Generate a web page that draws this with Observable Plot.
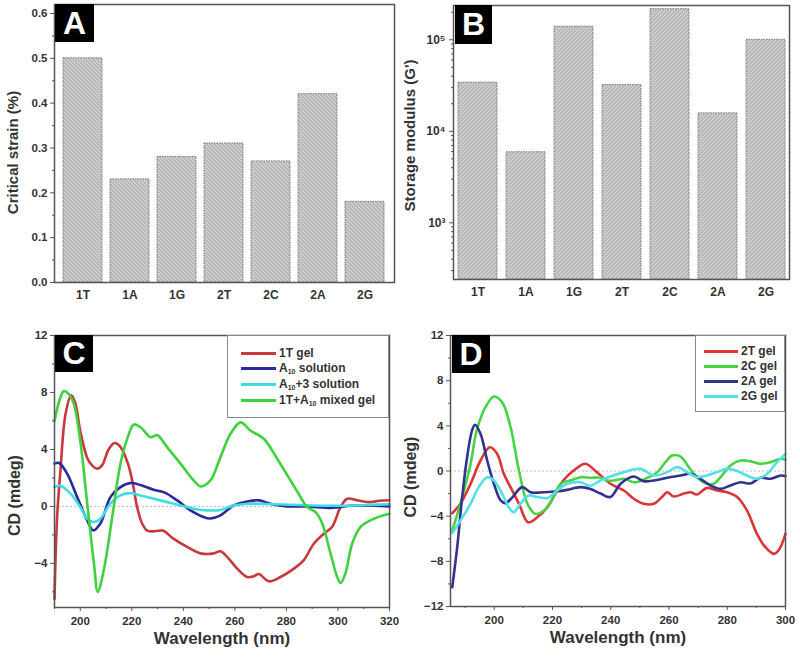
<!DOCTYPE html>
<html><head><meta charset="utf-8">
<script src="https://cdn.jsdelivr.net/npm/d3@7"></script>
<script src="https://cdn.jsdelivr.net/npm/@observablehq/plot@0.6"></script>
<style>
body{margin:0;background:#fff;font-family:"Liberation Sans",Arial,sans-serif;}
#fig{position:relative;width:800px;height:660px;overflow:hidden;background:#fff;}
.panel{position:absolute;}
.tag{position:absolute;background:#000;color:#fff;font-weight:bold;font-size:32px;text-align:center;box-sizing:border-box;}
.legend{position:absolute;border:1px solid #888;background:#fff;font-weight:bold;font-size:12px;color:#333;box-sizing:border-box;}
.row{position:absolute;height:14px;line-height:14px;white-space:nowrap;}
.sw{position:absolute;height:3px;top:6px;}
.lt{position:absolute;top:0;}
sub{font-size:7px;vertical-align:-2px;}
</style></head>
<body>
<svg width="0" height="0" style="position:absolute">
  <defs>
    <pattern id="hatchA" patternUnits="userSpaceOnUse" width="4" height="4">
      <rect width="4" height="4" fill="#bababa"></rect>
      <path d="M-1,-1 L5,5 M-1,3 L1,5 M3,-1 L5,1" stroke="#dadada" stroke-width="1"></path>
    </pattern>
    <pattern id="hatchB" patternUnits="userSpaceOnUse" width="4" height="4">
      <rect width="4" height="4" fill="#bababa"></rect>
      <path d="M-1,5 L5,-1 M-1,1 L1,-1 M3,5 L5,3" stroke="#dadada" stroke-width="1"></path>
    </pattern>
  </defs>
</svg>
<div id="fig"></div>
<script>
// ---------- data ----------
const samples = ["1T","1A","1G","2T","2C","2A","2G"];
const criticalStrain = [0.50,0.23,0.28,0.31,0.27,0.42,0.18];
const storageModulus = [34000,5900,139000,32000,216000,15700,100000];

const strainTicks = [0,0.1,0.2,0.3,0.4,0.5,0.6];
const modulusTicks = [1e3,1e4,1e5];
const cdTicksC = [-4,0,4,8,12];
const cdTicksD = [-12,-8,-4,0,4,8,12];
const wlTicksC = [200,220,240,260,280,300,320];
const wlTicksD = [200,220,240,260,280,300];

// Panel C: [wavelength nm, CD mdeg]
const c_1Tgel = [[190,-6.5],[191,-0.8],[192.3,2.5],[194.3,6.5],[196.5,7.8],[198,7.3],[200,5.3],[202.7,3.4],[204.5,2.9],[206.6,2.65],[208.5,2.9],[211,4.0],[213.3,4.45],[215.5,4.2],[218.5,3.0],[220.5,1.5],[222,0],[224,-1.2],[226,-1.7],[229,-1.75],[232,-1.7],[236,-2.25],[241.5,-2.85],[246.7,-3.3],[251.8,-3.3],[254.4,-3.15],[257,-3.55],[260.9,-4.37],[264.8,-4.96],[267.4,-4.9],[269.3,-4.75],[273.2,-5.26],[277.7,-4.96],[282.9,-4.37],[286.7,-3.79],[290.6,-2.62],[294.5,-1.92],[297.7,-1.45],[301,-0.05],[303.6,0.54],[307.4,0.43],[312.6,0.3],[316,0.4],[320,0.43]];
const c_A10sol = [[190,3.0],[191.8,3.05],[194.9,2.3],[198.8,0.65],[202.7,-0.98],[205,-1.68],[207.8,-1.2],[211.7,0.65],[215.6,1.35],[219.5,1.64],[223.4,1.5],[228.5,1.17],[232.4,1.0],[237.6,0.42],[242.8,-0.28],[247.9,-0.75],[250.5,-0.85],[254.4,-0.63],[259.6,0.07],[264.8,0.35],[269.3,0.42],[273.8,0.19],[280,0.0],[288,0.0],[298,-0.1],[305,0.05],[314,0.05],[320,0]];
const c_A10p3sol = [[190,1.35],[192.3,1.45],[196.2,0.9],[200,-0.05],[202.7,-0.87],[205.3,-1.1],[207.8,-0.87],[211.7,0.19],[215.6,0.77],[219.5,0.93],[223.4,0.77],[228.5,0.54],[233.7,0.3],[238.9,0.07],[244,-0.16],[249.2,-0.28],[254.4,-0.25],[259.6,0.07],[266,0.19],[275,0.15],[285,0.1],[295,0.05],[305,0.05],[312,0.1],[320,0.15]];
const c_mixedgel = [[190,6.0],[193.6,8.1],[195.5,7.9],[197.5,7.2],[200,4.6],[202.7,0.2],[205.3,-4.0],[206.8,-6.0],[209.1,-4.5],[212.4,-0.75],[215.6,3.0],[218.5,4.9],[220.8,5.75],[223.4,5.56],[227.3,4.86],[229.9,5.0],[233.7,4.16],[238.9,3.0],[244,1.82],[246.7,1.4],[250.5,1.82],[254.4,3.46],[258.3,5.1],[262.2,5.9],[266,5.33],[271.2,4.75],[276.4,3.35],[281.6,1.82],[285.5,0.65],[288,-0.05],[291.3,-0.4],[293.9,-1.2],[297.1,-3.3],[299.7,-4.96],[301,-5.38],[302.9,-4.7],[305.5,-2.62],[308.7,-1.45],[313.9,-0.87],[320,-0.52]];

// Panel D
const d_2Tgel = [[185.6,-3.74],[188.4,-2.9],[191.9,-1.13],[195.3,0.93],[198.5,2.1],[201,1.52],[203.3,-0.25],[205.6,-1.43],[208.5,-2.9],[211.6,-4.53],[214.8,-4.1],[218.3,-3.2],[221,-2.0],[223.7,-0.84],[227.3,0.04],[231.3,0.64],[235.2,-0.1],[239.9,-1.13],[244.5,-1.73],[247.9,-2.46],[251.3,-2.9],[254.8,-2.9],[257.6,-2.3],[259.4,-1.88],[261.6,-2.26],[265.1,-2.0],[267.4,-1.88],[269.6,-2.08],[273,-1.5],[276.5,-1.73],[279.9,-1.88],[283.4,-2.3],[286.8,-3.5],[290.2,-5.56],[293.1,-6.75],[296,-7.34],[297.7,-7.0],[300,-5.56]];
const d_2Cgel = [[185.6,-5.27],[188.4,-2.9],[191.9,0.64],[194,3.6],[197,5.65],[199.9,6.6],[202.7,6.1],[205.6,3.9],[208.5,0.05],[211.4,-2.9],[214.2,-3.8],[217.1,-3.5],[219.7,-2.6],[222.8,-1.13],[226.2,-0.84],[229.6,-0.55],[233.1,-0.6],[236.5,-0.6],[238.8,-0.84],[241.1,-0.84],[244.5,-0.69],[247.9,-1.0],[250,-0.9],[253.1,-0.55],[256,-0.1],[258.8,0.78],[261.1,1.37],[264,1.28],[266.8,0.34],[269.6,-0.55],[273,-1.13],[275.4,-1.13],[277.7,-0.55],[281.1,0.49],[284.6,0.93],[288,0.85],[291.4,0.64],[294.9,0.78],[298.3,1.08],[300,1.0]];
const d_2Agel = [[185.6,-10.3],[187.3,-6.75],[189,-2.32],[190.7,1.22],[192.4,3.6],[193.4,4.1],[195.3,3.3],[197.6,0.93],[199.9,-1.13],[202.2,-2.6],[203.9,-2.85],[206,-2.4],[209.6,-1.43],[212.5,-1.88],[215.9,-1.9],[221.6,-1.8],[225,-1.67],[229.6,-1.43],[233.1,-1.6],[236.5,-2.0],[239.9,-2.3],[243.4,-1.13],[247.9,-0.49],[251.3,-0.9],[254.8,-0.84],[259.4,-0.6],[264,-0.4],[267.4,-0.25],[270.8,-0.69],[274.2,-1.28],[277.7,-1.58],[281.1,-1.28],[284.6,-1.0],[288,-1.1],[291.4,-0.6],[294.9,-0.69],[298.3,-0.4],[300,-0.45]];
const d_2Ggel = [[185.6,-5.5],[188.4,-4.4],[191.9,-2.9],[194.7,-1.43],[197.6,-0.55],[199.9,-0.84],[202.7,-2.0],[205,-3.2],[206.7,-3.65],[209,-2.9],[211.9,-2.17],[214.8,-2.3],[218.3,-2.4],[221.6,-1.73],[225,-1.13],[229.6,-1.0],[233.1,-1.3],[236.5,-0.84],[239.9,-0.49],[244.5,-0.1],[250.2,0.19],[254.8,-0.4],[259.4,-0.1],[262.8,0.34],[266.2,-0.1],[269.6,-0.55],[273,-0.4],[276.5,-0.1],[279.9,0.19],[283.4,0],[286.8,-0.4],[290.2,-0.69],[293.7,-0.25],[296.6,0.64],[300,1.52]];

const seriesC = [
  {name: "1T gel", html: "1T gel", data: c_1Tgel, color: "#c8383c"},
  {name: "A10 solution", html: "A<sub>10</sub> solution", data: c_A10sol, color: "#2a2a9c"},
  {name: "A10+3 solution", html: "A<sub>10</sub>+3 solution", data: c_A10p3sol, color: "#3fdde3"},
  {name: "1T+A10 mixed gel", html: "1T+A<sub>10</sub> mixed gel", data: c_mixedgel, color: "#3fd23f"}
];
const seriesD = [
  {name: "2T gel", html: "2T gel", data: d_2Tgel, color: "#dd3535"},
  {name: "2C gel", html: "2C gel", data: d_2Cgel, color: "#44d444"},
  {name: "2A gel", html: "2A gel", data: d_2Agel, color: "#33338f"},
  {name: "2G gel", html: "2G gel", data: d_2Ggel, color: "#55e0e8"}
];

// ---------- helpers ----------
const fig = document.getElementById("fig");
const style = {fontFamily: "'Liberation Sans', Arial, sans-serif", fontSize: "11.5px", fontWeight: "bold", color: "#333", background: "transparent", overflow: "visible"};
const FRAME = "#555";
function place(node, left, top) {
  node.classList.add("panel");
  node.style.left = left + "px"; node.style.top = top + "px";
  fig.appendChild(node);
}
function tag(letter, left, top, w, h) {
  const d = document.createElement("div");
  d.className = "tag"; d.textContent = letter;
  Object.assign(d.style, {left: left+"px", top: top+"px", width: w+"px", height: h+"px", lineHeight: h+"px"});
  fig.appendChild(d);
}
function legend(series, left, top, w, h, rows, swL, swW, txL) {
  const box = document.createElement("div");
  box.className = "legend";
  Object.assign(box.style, {left: left+"px", top: top+"px", width: w+"px", height: h+"px"});
  series.forEach((s, i) => {
    const r = document.createElement("div");
    r.className = "row"; r.style.top = (rows[i] - 7) + "px"; r.style.left = "0px";
    r.innerHTML = `<span class="sw" style="left:${swL}px;width:${swW}px;background:${s.color}"></span><span class="lt" style="left:${txL}px">${s.html}</span>`;
    box.appendChild(r);
  });
  fig.appendChild(box);
}
const minorBetween = (ticks) => ticks.slice(1).map((t, i) => (t + ticks[i]) / 2);
const sup = {3: "\u00b3", 4: "\u2074", 5: "\u2075"};
const yTitle = (t, dx, dy, fs) => Plot.text([t], {text: d => d, frameAnchor: "left", textAnchor: "middle", rotate: -90, dx, dy, fontSize: fs, fontWeight: "bold", fill: "#333"});

// ---------- Panel A ----------
const tableA = samples.map((s, i) => ({sample: s, v: criticalStrain[i]}));
const plotA = Plot.plot({
  width: 400, height: 320, marginLeft: 54, marginRight: 6, marginTop: 4, marginBottom: 38,
  style,
  x: {domain: samples, paddingInner: 0.17, paddingOuter: 0.145, axis: null},
  y: {domain: [0, 0.62], axis: null},
  marks: [
    Plot.barY(tableA, {x: "sample", y: "v", fill: "url(#hatchA)", stroke: "#777", strokeWidth: 1, strokeDasharray: "1.5,1"}),
    Plot.axisX({tickSize: 0, tickPadding: 8, label: null, fontSize: 12}),
    Plot.axisY({ticks: strainTicks, tickFormat: ".1f", tickSize: 4, tickPadding: 3, label: null, stroke: FRAME}),
    Plot.axisY({ticks: minorBetween(strainTicks), tickFormat: () => "", tickSize: 2, label: null, stroke: FRAME}),
    Plot.frame({stroke: FRAME, strokeWidth: 1.5}),
    yTitle("Critical strain (%)", -41, 9, 15)
  ]
});
place(plotA, 0, 0);

// ---------- Panel B ----------
const tableB = samples.map((s, i) => ({sample: s, v: storageModulus[i]}));
const yMinB = 240;
const minorB = [];
[100, 1000, 10000, 100000].forEach(dec => { for (let k = 2; k <= 9; k++) { const v = dec * k; if (v > yMinB && v < 237000) minorB.push(v); } });
const plotB = Plot.plot({
  width: 400, height: 320, marginLeft: 53, marginRight: 11, marginTop: 5, marginBottom: 41,
  style,
  x: {domain: samples, paddingInner: 0.19, paddingOuter: 0.07, axis: null},
  y: {type: "log", domain: [yMinB, 237000], axis: null},
  marks: [
    Plot.barY(tableB, {x: "sample", y1: yMinB, y2: "v", fill: "url(#hatchB)", stroke: "#777", strokeWidth: 1, strokeDasharray: "1.5,1"}),
    Plot.axisX({tickSize: 0, tickPadding: 8, label: null, fontSize: 12}),
    Plot.axisY({ticks: modulusTicks, tickFormat: d => "10" + sup[Math.round(Math.log10(d))], tickSize: 4, tickPadding: 4, label: null, stroke: FRAME, fontSize: 12}),
    Plot.axisY({ticks: minorB, tickFormat: () => "", tickSize: 2, label: null, stroke: FRAME}),
    Plot.frame({stroke: FRAME, strokeWidth: 1.5}),
    yTitle("Storage modulus (G')", -43, -7, 15)
  ]
});
place(plotB, 400, 0);

// ---------- Panel C ----------
const plotC = Plot.plot({
  width: 400, height: 330, marginLeft: 54, marginRight: 11, marginTop: 5, marginBottom: 53,
  style,
  x: {domain: [190, 320], axis: null},
  y: {domain: [-7.1, 12], axis: null},
  marks: [
    Plot.ruleY([0], {stroke: "#bbb", strokeDasharray: "2,2"}),
    ...seriesC.map(s => Plot.line(s.data, {x: d => d[0], y: d => d[1], stroke: s.color, strokeWidth: 2.6, curve: "catmull-rom"})),
    Plot.axisX({ticks: wlTicksC, tickSize: 4, tickPadding: 5, label: null, stroke: FRAME}),
    Plot.axisX({ticks: minorBetween(wlTicksC).concat([190]), tickFormat: () => "", tickSize: 2, label: null, stroke: FRAME}),
    Plot.axisY({ticks: cdTicksC, tickSize: 4, tickPadding: 3, label: null, stroke: FRAME}),
    Plot.axisY({ticks: minorBetween(cdTicksC).concat([-6]), tickFormat: () => "", tickSize: 2, label: null, stroke: FRAME}),
    Plot.frame({stroke: FRAME, strokeWidth: 1.5}),
    yTitle("CD (mdeg)", -40, 24, 16),
    Plot.text(["Wavelength (nm)"], {text: d => d, frameAnchor: "bottom", dy: 36, fontSize: 17, fontWeight: "bold", fill: "#333"})
  ]
});
place(plotC, 0, 330);

// ---------- Panel D ----------
const plotD = Plot.plot({
  width: 400, height: 330, marginLeft: 50, marginRight: 15, marginTop: 5, marginBottom: 54,
  style,
  x: {domain: [185, 300], axis: null},
  y: {domain: [-12, 12], axis: null},
  marks: [
    Plot.ruleY([0], {stroke: "#bbb", strokeDasharray: "2,2"}),
    ...seriesD.map(s => Plot.line(s.data, {x: d => d[0], y: d => d[1], stroke: s.color, strokeWidth: 2.6, curve: "catmull-rom"})),
    Plot.axisX({ticks: wlTicksD, tickSize: 4, tickPadding: 5, label: null, stroke: FRAME}),
    Plot.axisX({ticks: minorBetween(wlTicksD).concat([190]), tickFormat: () => "", tickSize: 2, label: null, stroke: FRAME}),
    Plot.axisY({ticks: cdTicksD, tickSize: 4, tickPadding: 3, label: null, stroke: FRAME}),
    Plot.axisY({ticks: minorBetween(cdTicksD), tickFormat: () => "", tickSize: 2, label: null, stroke: FRAME}),
    Plot.frame({stroke: FRAME, strokeWidth: 1.5}),
    yTitle("CD (mdeg)", -40, 6, 16),
    Plot.text(["Wavelength (nm)"], {text: d => d, frameAnchor: "bottom", dy: 36, fontSize: 17, fontWeight: "bold", fill: "#333"})
  ]
});
place(plotD, 400, 330);

// ---------- overlays ----------
tag("A", 55, 4, 39, 38);
tag("B", 455, 5, 37, 39);
tag("C", 55, 335, 38, 37);
tag("D", 452, 335, 38, 38);
legend(seriesC, 227, 335, 162, 83, [17, 32, 48, 64], 13, 35, 51);
legend(seriesD, 695, 335, 90, 77, [15, 30, 45, 60], 8, 34, 45);
</script>
</body></html>
